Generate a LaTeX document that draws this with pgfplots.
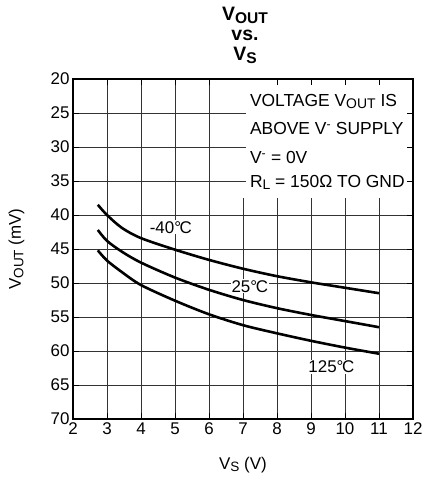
\documentclass[border=0pt]{standalone}
\usepackage{fontspec}
\setmainfont{Liberation Sans}
\usepackage{pgfplots}
\pgfplotsset{compat=1.18}
\makeatletter
\newcommand\sub[1]{\raisebox{-0.28ex}{\fontsize{\strip@pt\dimexpr 0.8\dimexpr\f@size pt\relax\relax}{0}\selectfont #1}}
\makeatother
\newcommand\degC{°\kern-0.08em C}
\begin{document}
\begin{tikzpicture}
\begin{axis}[
  scale only axis,
  width=340bp, height=340bp,
  xmin=2, xmax=12, ymin=20, ymax=70,
  y dir=reverse,
  xtick={2,3,...,12},
  ytick={20,25,...,70},
  grid=major,
  major grid style={line width=0.8pt, black!80},
  axis line style={line width=1.1pt, black},
  tick style={line width=0.8pt, black},
  major tick length=6pt,
  /pgf/number format/assume math mode=true,
  tick label style={font=\fontsize{17}{20}\selectfont},
  label style={font=\fontsize{17}{20}\selectfont},
  xlabel={V\sub{S} (V)},
  ylabel={V\sub{OUT} (mV)},
  xlabel style={at={(axis description cs:0.5,-0.135)}, anchor=center},
  ylabel style={at={(axis description cs:-0.166,0.5)}, anchor=center},
  title={V\sub{OUT}\\vs.\\V\sub{S}},
  title style={at={(axis description cs:0.5,1)}, yshift=66bp, xshift=2bp, anchor=north, inner sep=0pt,
    align=center, font=\fontsize{19.5}{20}\selectfont\bfseries},
  clip=false,
]
% white box behind annotation
\fill[white] ([xshift=0.45pt,yshift=-0.6pt]axis cs:7,20) rectangle ([xshift=-0.6pt]axis cs:12,37.5);
\pgfplotsinvokeforeach{8,9,10,11}{\draw[line width=0.8pt, black] (axis cs:#1,20) -- ++(0pt,-6pt);}
\pgfplotsinvokeforeach{25,30,35}{
  \draw[line width=0.8pt, black!80] (axis cs:7,#1) -- ++(3pt,0pt);
  \draw[line width=0.8pt, black] (axis cs:12,#1) -- ++(-6pt,0pt);
}
\node[anchor=base west, inner sep=0pt, font=\fontsize{17.5}{20}\selectfont] at (axis cs:7.2,24.0) {VOLTAGE V\sub{OUT} IS};
\node[anchor=base west, inner sep=0pt, font=\fontsize{17.5}{20}\selectfont] at (axis cs:7.2,28.2) {ABOVE V\textsuperscript{-} SUPPLY};
\node[anchor=base west, inner sep=0pt, font=\fontsize{17.5}{20}\selectfont] at (axis cs:7.2,32.4) {V\textsuperscript{-} = 0V};
\node[anchor=base west, inner sep=0pt, font=\fontsize{17.5}{20}\selectfont] at (axis cs:7.2,35.9) {R\sub{L} = 150Ω TO GND};

% -40 C
\addplot[black, line width=2.6pt, smooth, tension=0.5] coordinates {
 (2.73,38.5) (3,40.0) (3.44,41.9) (4,43.4) (5,45.1) (6,46.6) (7,47.9) (8,49.0) (9,49.9) (10,50.7) (11,51.5)
};
% 25 C
\addplot[black, line width=2.6pt, smooth, tension=0.5] coordinates {
 (2.73,42.2) (3,43.8) (3.44,45.4) (4,47.0) (5,49.2) (6,51.0) (7,52.5) (8,53.7) (9,54.7) (10,55.6) (11,56.5)
};
% 125 C
\addplot[black, line width=2.6pt, smooth, tension=0.5] coordinates {
 (2.73,45.2) (3,46.7) (3.44,48.4) (4,50.3) (5,52.6) (6,54.6) (7,56.2) (8,57.4) (9,58.5) (10,59.5) (11,60.4)
};
\node[fill=white, inner sep=1pt, font=\fontsize{17}{20}\selectfont] at (axis cs:4.88,41.8) {-40\degC};
\node[fill=white, inner sep=1pt, font=\fontsize{17}{20}\selectfont] at (axis cs:7.2,50.5) {25\degC};
\node[fill=white, inner sep=1pt, font=\fontsize{17}{20}\selectfont] at (axis cs:9.6,62.3) {125\degC};

\coordinate (SW) at (axis description cs:0,0);
\coordinate (NE) at (axis description cs:1,1);
\end{axis}
\pgfresetboundingbox
\path[use as bounding box] ([shift={(-73bp,-58bp)}]SW) rectangle ([shift={(11bp,79bp)}]NE);
\end{tikzpicture}
\end{document}
